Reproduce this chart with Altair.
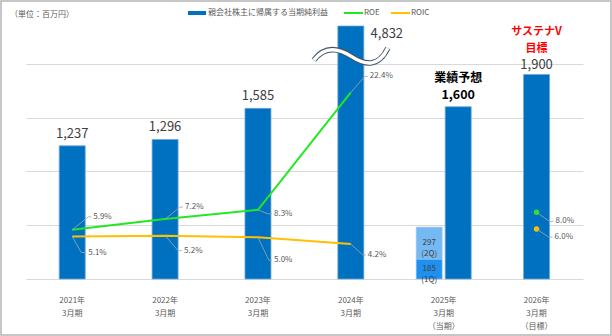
import altair as alt
import pandas as pd

# ---------------- data ----------------
categories = ["2021年\n3月期", "2022年\n3月期", "2023年\n3月期", "2024年\n3月期",
              "2025年\n3月期\n（当期）", "2026年\n3月期\n（目標）"]
net_income = [1237, 1296, 1585, 4832, 1600, 1900]
roe = [5.9, 7.2, 8.3, 22.4, None, 8.0]
roic = [5.1, 5.2, 5.0, 4.2, None, 6.0]
kinds = ["actual", "actual", "actual", "actual", "forecast", "target"]
quarters = ["1Q", "2Q"]
quarter_income = [185, 297]
legend_labels = ["親会社株主に帰属する当期純利益", "ROE", "ROIC"]
unit_label = "（単位：百万円）"
forecast_label = "業績予想"
target_labels = ["サステナV", "目標"]

df = pd.DataFrame({"cat": categories, "income": net_income, "roe": roe, "roic": roic,
                   "kind": kinds, "idx": list(range(len(categories)))})
qdf = pd.DataFrame({"cat": [categories[4]] * len(quarters), "q": quarters, "value": quarter_income})

# ---------------- style ----------------
JP = "Noto Sans CJK JP"
BLUE = "#0070C0"
GREEN = "#22E822"
GOLD = "#FFC000"
Q_COLORS = ["#1E90F0", "#75B9F2"]
GRAY_TXT = "#595959"
DARK_TXT = "#404040"
LEADER = "#A6A6A6"
Y1_MAX = 2350      # visible top of the (broken) amount axis
Y2_MAX = 30.37     # matching top of the percentage axis
BREAK_AT = 2070    # where the break symbol sits on the 2024 bar

W, H = 552, 253
PAD = {"left": 36, "top": 26, "right": 24, "bottom": 57}

X_SCALE = alt.Scale(domain=categories, range=[-10.2, 547], paddingInner=0, paddingOuter=0)
X_AXIS = alt.Axis(labelExpr="split(datum.label, '\\n')", labelFont=JP, labelFontSize=8,
                  labelColor=GRAY_TXT, labelLineHeight=13, labelPadding=17,
                  ticks=False, domain=False, grid=False, labelAngle=0, title=None)


def X():
    return alt.X("cat:N", scale=X_SCALE, axis=X_AXIS)


def Y1(field, axis=None):
    return alt.Y(field, type="quantitative",
                 scale=alt.Scale(domain=[0, Y1_MAX], clamp=True, nice=False, zero=True),
                 axis=axis)


def Y2(field):
    return alt.Y(field, type="quantitative",
                 scale=alt.Scale(domain=[0, Y2_MAX], nice=False, zero=True), axis=None)


GRID_AXIS = alt.Axis(values=[0, 500, 1000, 1500, 2000], grid=True, labels=False, ticks=False,
                     domain=False, title=None, gridColor="#D9D9D9", gridWidth=1)

one = alt.Data(values=[{"a": 1}])
layers = []

# frame around the whole picture
layers.append(alt.Chart(one).mark_rect(fillOpacity=0, stroke="#B4B4B4", strokeWidth=1.5).encode(
    x=alt.value(-35), x2=alt.value(W + PAD["right"] - 1),
    y=alt.value(-25), y2=alt.value(H + PAD["bottom"] - 1)))

# bars
bar_style = dict(size=26, stroke="#6FA8DC", strokeWidth=0.8)
layers.append(alt.Chart(df).transform_filter("datum.kind != 'forecast'").mark_bar(
    color=BLUE, **bar_style).encode(x=X(), y=Y1("income", GRID_AXIS)))
layers.append(alt.Chart(df).transform_filter("datum.kind == 'forecast'").mark_bar(
    color=BLUE, xOffset=14.5, **bar_style).encode(x=X(), y=Y1("income")))

qbase = alt.Chart(qdf).transform_stack(
    stack="value", as_=["v0", "v1"], groupby=["cat"], sort=[alt.SortField("q")])
layers.append(qbase.mark_bar(size=26, xOffset=-14.5, stroke="#9DC8F0", strokeWidth=0.6).encode(
    x=X(), y=Y1("v1"), y2="v0:Q",
    color=alt.Color("q:N", scale=alt.Scale(domain=quarters, range=Q_COLORS), legend=None)))
layers.append(qbase.transform_calculate(
    mid="(datum.v0 + datum.v1) / 2",
    lbl="datum.value + '\\n(' + datum.q + ')'").mark_text(
    dx=-14.5, lineBreak="\n", lineHeight=11, fontSize=8, font=JP, color=DARK_TXT).encode(
    x=X(), y=Y1("mid"), text="lbl:N"))

# break symbol on the 2024 bar
WAVE = "M-37,4 C-27,-9 -14,-9 0,0 C14,9 27,12 37,-8"
wave_base = alt.Chart(df).transform_filter("datum.idx == 3")
layers.append(wave_base.mark_point(shape=WAVE, size=4, filled=False, stroke="#44546A",
                                   strokeWidth=5.5, opacity=1, strokeCap="butt").encode(
    x=X(), y=alt.Y(datum=BREAK_AT, scale=alt.Scale(domain=[0, Y1_MAX], nice=False), axis=None)))
layers.append(wave_base.mark_point(shape=WAVE, size=4, filled=False, stroke="white",
                                   strokeWidth=3.5, opacity=1, strokeCap="butt").encode(
    x=X(), y=alt.Y(datum=BREAK_AT, scale=alt.Scale(domain=[0, Y1_MAX], nice=False), axis=None)))

# ROE / ROIC lines and target points
for field, col in (("roe", GREEN), ("roic", GOLD)):
    layers.append(alt.Chart(df).transform_filter("datum.idx <= 3").mark_line(
        color=col, strokeWidth=2).encode(x=X(), y=Y2(field)))
    layers.append(alt.Chart(df).transform_filter("datum.kind == 'target'").mark_circle(
        color=col, size=30, opacity=1).encode(x=X(), y=Y2(field)))

# leader lines and percentage labels: (series, idx) -> (leader path, dx, dy)
placements = {
    ("roe", 0): ("M0,0L16,-13L19,-13", 21, -13),
    ("roe", 1): ("M0,0L15,-12L18,-12", 20, -12),
    ("roe", 2): ("M0,0L10,4L14,4", 16, 4),
    ("roe", 3): ("M0,0L14,-16L17,-16", 19, -16),
    ("roe", 5): ("M0,0L13,9L17,9", 19, 9),
    ("roic", 0): ("M0,0L9,16L14,16", 16, 16),
    ("roic", 1): ("M0,0L13,15L17,15", 19, 15),
    ("roic", 2): ("M0,0L11,23L14,23", 16, 23),
    ("roic", 3): ("M0,0L12,11L15,11", 17, 11),
    ("roic", 5): ("M0,0L12,8L16,8", 18, 8),
}
for (field, i), (path, dx, dy) in placements.items():
    base = alt.Chart(df).transform_filter(f"datum.idx == {i}")
    layers.append(base.mark_point(shape=path, size=4, filled=False, stroke=LEADER,
                                  strokeWidth=0.8, opacity=1).encode(x=X(), y=Y2(field)))
    layers.append(base.transform_calculate(lbl=f"format(datum.{field}, '.1f') + '%'").mark_text(
        align="left", baseline="middle", dx=dx, dy=dy, fontSize=8, font=JP, color=GRAY_TXT).encode(
        x=X(), y=Y2(field), text="lbl:N"))

# value labels
num = dict(font=JP, fontSize=13, baseline="middle")
layers.append(alt.Chart(df).transform_filter("indexof([0,1,2], datum.idx) >= 0").mark_text(
    dy=-12, color=DARK_TXT, **num).encode(
    x=X(), y=Y1("income"), text=alt.Text("income:Q", format=",")))
layers.append(alt.Chart(df).transform_filter("datum.idx == 3").mark_text(
    dx=36, dy=8, color=DARK_TXT, **num).encode(
    x=X(), y=Y1("income"), text=alt.Text("income:Q", format=",")))
fc = alt.Chart(df).transform_filter("datum.kind == 'forecast'")
layers.append(fc.mark_text(dx=14.5, dy=-11.5, color="black", fontWeight="bold", font=JP,
                           fontSize=12.5, baseline="middle").encode(
    x=X(), y=Y1("income"), text=alt.Text("income:Q", format=",")))
layers.append(fc.mark_text(dx=14.5, dy=-28.5, color="black", fontWeight="bold", font=JP,
                           fontSize=12, baseline="middle").encode(
    x=X(), y=Y1("income"), text=alt.value(forecast_label)))
tg = alt.Chart(df).transform_filter("datum.kind == 'target'")
layers.append(tg.mark_text(dy=-9.5, color=DARK_TXT, **num).encode(
    x=X(), y=Y1("income"), text=alt.Text("income:Q", format=",")))
layers.append(tg.mark_text(dy=-25, color="#FF0000", fontWeight="bold", font=JP, fontSize=11,
                           baseline="middle").encode(
    x=X(), y=Y1("income"), text=alt.value(target_labels[1])))
layers.append(tg.mark_text(dy=-42, color="#FF0000", fontWeight="bold", font=JP, fontSize=11,
                           baseline="middle").encode(
    x=X(), y=Y1("income"), text=alt.value(target_labels[0])))

# legend + unit
legend_txt = dict(align="left", baseline="middle", fontSize=8, font=JP, color=GRAY_TXT)
layers.append(alt.Chart(one).mark_rule(color=BLUE, strokeWidth=4).encode(
    x=alt.value(152), x2=alt.value(170), y=alt.value(-13)))
layers.append(alt.Chart(one).mark_text(**legend_txt).encode(
    x=alt.value(172), y=alt.value(-13), text=alt.value(legend_labels[0])))
layers.append(alt.Chart(one).mark_rule(color=GREEN, strokeWidth=2).encode(
    x=alt.value(308), x2=alt.value(327), y=alt.value(-13)))
layers.append(alt.Chart(one).mark_text(**legend_txt).encode(
    x=alt.value(328), y=alt.value(-13), text=alt.value(legend_labels[1])))
layers.append(alt.Chart(one).mark_rule(color=GOLD, strokeWidth=2).encode(
    x=alt.value(355), x2=alt.value(374), y=alt.value(-13)))
layers.append(alt.Chart(one).mark_text(**legend_txt).encode(
    x=alt.value(375), y=alt.value(-13), text=alt.value(legend_labels[2])))
layers.append(alt.Chart(one).mark_text(**legend_txt).encode(
    x=alt.value(-26), y=alt.value(-11), text=alt.value(unit_label)))

chart = alt.layer(*layers).resolve_scale(y="independent").properties(
    width=W, height=H, padding=PAD, autosize=alt.AutoSizeParams(type="none"),
    background="white").configure_view(strokeWidth=0)

chart.save("out.html", embed_options={"renderer": "svg", "actions": False})
